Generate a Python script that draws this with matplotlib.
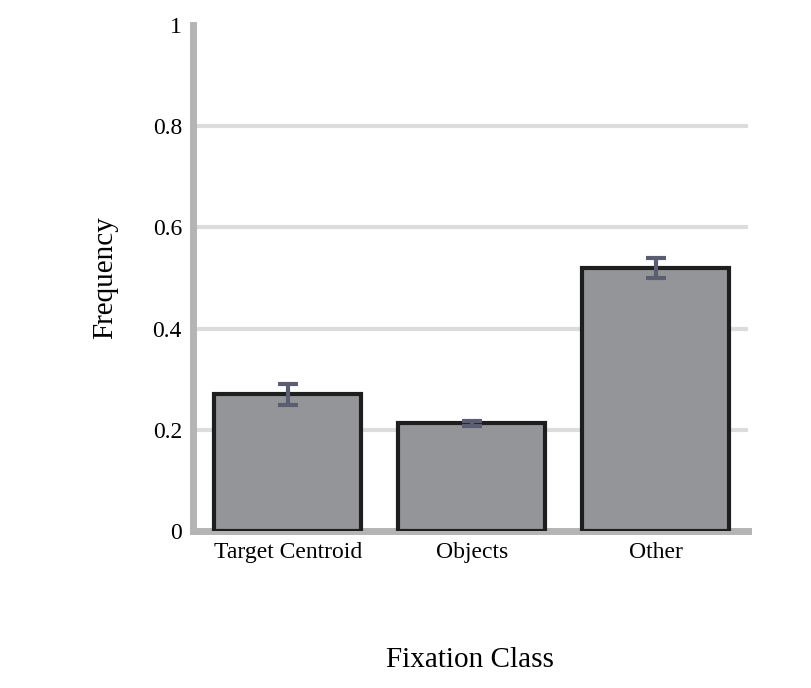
import matplotlib
matplotlib.use("Agg")
import matplotlib.pyplot as plt

categories = ["Target Centroid", "Objects", "Other"]
values = [0.27, 0.213, 0.52]
errors = [0.02, 0.005, 0.02]
yticks = [0, 0.2, 0.4, 0.6, 0.8, 1]
yticklabels = ["0", "0.2", "0.4", "0.6", "0.8", "1"]

plt.rcParams['font.family'] = ['Liberation Serif', 'DejaVu Serif']
fig = plt.figure(figsize=(8.11, 6.88), dpi=100)
ax = fig.add_axes([0.238, 0.228, 0.684, 0.736])
x = list(range(len(categories)))
ax.bar(x, values, width=0.8, color="#939598", edgecolor="#1e1e1e", linewidth=3, zorder=3)
ax.errorbar(x, values, yerr=errors, fmt="none", ecolor="#5a5e70", elinewidth=3,
            capsize=7, capthick=3, zorder=4)
ax.set_xlim(-0.516, 2.5)
ax.set_ylim(0, 1)
ax.set_yticks(yticks)
ax.set_yticklabels(yticklabels, fontsize=17)
ax.set_xticks(x)
ax.set_xticklabels(categories, fontsize=17)
for y in yticks[1:-1]:
    ax.axhline(y, color="#dcdcdc", linewidth=3, zorder=1)
for s in ["top", "right"]:
    ax.spines[s].set_visible(False)
for s in ["left", "bottom"]:
    ax.spines[s].set_color("#b4b4b4")
    ax.spines[s].set_linewidth(5)
ax.tick_params(length=0, pad=8)
ax.set_ylabel("Frequency", fontsize=21, labelpad=25)
ax.set_xlabel("Fixation Class", fontsize=21, labelpad=60)
fig.savefig("out.png", dpi=100)
